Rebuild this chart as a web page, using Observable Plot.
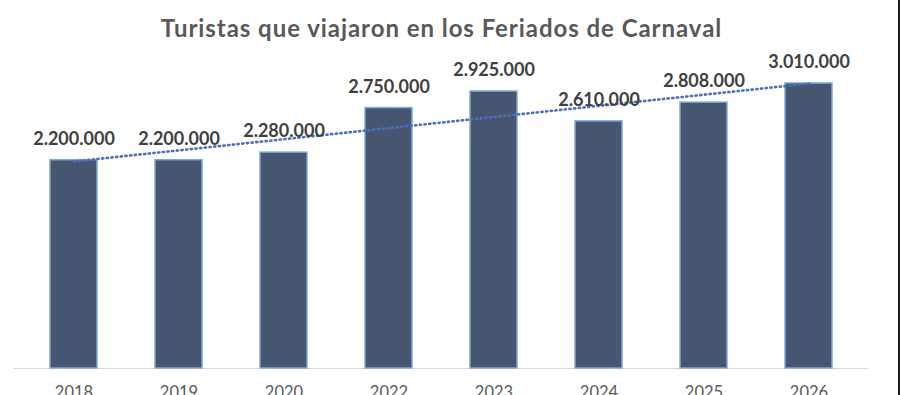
<!DOCTYPE html>
<html>
<head>
<meta charset="utf-8">
<script src="https://cdn.jsdelivr.net/npm/d3@7"></script>
<script src="https://cdn.jsdelivr.net/npm/@observablehq/plot@0.6"></script>
<style>
  html, body { margin: 0; padding: 0; background: #fff; }
  #wrap { position: relative; width: 900px; height: 395px; overflow: hidden; }
  #edge { position: absolute; left: 898px; top: 0; width: 2px; height: 395px; background: #1a1a1a; }
</style>
</head>
<body>
<div id="wrap"><div id="edge"></div></div>
<script>
const years = ["2018", "2019", "2020", "2022", "2023", "2024", "2025", "2026"];
const tourists = [2200000, 2200000, 2280000, 2750000, 2925000, 2610000, 2808000, 3010000];
const valueLabels = ["2.200.000", "2.200.000", "2.280.000", "2.750.000", "2.925.000", "2.610.000", "2.808.000", "3.010.000"];
const title = "Turistas que viajaron en los Feriados de Carnaval";

const data = years.map((y, i) => ({year: y, value: tourists[i], label: valueLabels[i], idx: i + 1}));

// linear trend (least squares) computed from the data
const mx = d3.mean(data, d => d.idx);
const my = d3.mean(data, d => d.value);
const slope = d3.sum(data, d => (d.idx - mx) * (d.value - my)) / d3.sum(data, d => (d.idx - mx) ** 2);
const trend = data.map(d => ({year: d.year, value: my + slope * (d.idx - mx)}));

const font = "Lato, 'Open Sans', sans-serif";

const chart = Plot.plot({
  width: 900,
  height: 395,
  marginLeft: 14,
  marginRight: 32,
  marginTop: 83,
  marginBottom: 27,
  style: {fontFamily: font, background: "#fff", overflow: "visible"},
  x: {domain: years, paddingInner: 0.55, paddingOuter: 0.307, label: null},
  y: {domain: [0, 3010000], axis: null},
  marks: [
    Plot.ruleY([0], {stroke: "#d9d9d9", strokeWidth: 1}),
    Plot.barY(data, {x: "year", y: "value", fill: "#465670", stroke: "#7ea8da", strokeWidth: 1.5}),
    Plot.line(trend, {x: "year", y: "value", stroke: "#4a6fb8", strokeWidth: 2.6, strokeDasharray: "1.2,3.5", strokeLinecap: "round"}),
    Plot.text(data, {x: "year", y: "value", text: "label", dy: -21, fontSize: 18, fontWeight: "bold", fill: "#404040"}),
    Plot.axisX({tickSize: 0, tickPadding: 18, fontSize: 16.5, fill: "#595959", label: null}),
    Plot.text([title], {frameAnchor: "top", dy: -64, dx: 0, fontSize: 24, fontWeight: "bold", fill: "#595959"})
  ]
});
// widen the title's letter spacing to match the reference
d3.select(chart).selectAll("text").filter(function() { return this.textContent === title; })
  .style("letter-spacing", "0.95px");
document.getElementById("wrap").prepend(chart);
</script>
</body>
</html>
